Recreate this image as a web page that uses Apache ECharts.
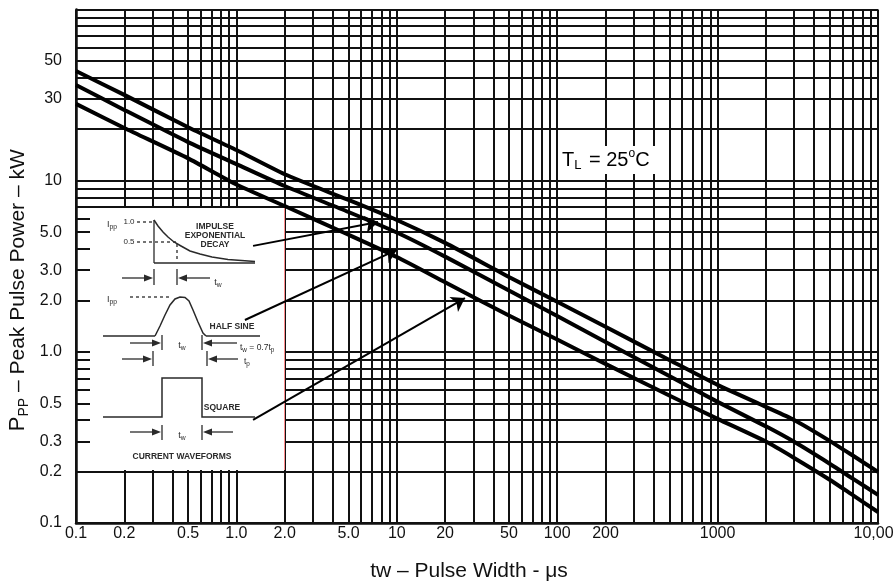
<!DOCTYPE html>
<html><head><meta charset="utf-8">
<script src="https://cdn.jsdelivr.net/npm/echarts@6/dist/echarts.min.js"></script>
<style>html,body{margin:0;padding:0;background:#fff}#c{width:894px;height:588px}</style>
</head><body><div id="c"></div>
<script>
// ---- data ----
const pulseWidth = [0.1, 0.2, 0.5, 1, 2, 5, 10, 20, 50, 100, 200, 500, 1000, 2000, 3000, 5000, 7000, 10000];
const curveTop = [43.7, 31.7, 20.5, 15.1, 10.9, 7.71, 5.89, 4.33, 2.74, 1.96, 1.40, 0.897, 0.641, 0.477, 0.40, 0.302, 0.247, 0.199];
const curveMid = [36.2, 25.9, 16.8, 12.5, 9.31, 6.56, 4.98, 3.60, 2.28, 1.62, 1.14, 0.723, 0.510, 0.367, 0.298, 0.222, 0.181, 0.146];
const curveBot = [28.1, 20.3, 13.5, 9.5, 7.11, 4.83, 3.58, 2.55, 1.63, 1.18, 0.850, 0.556, 0.406, 0.299, 0.240, 0.179, 0.145, 0.116];

const xTickValues = [0.1, 0.2, 0.5, 1, 2, 5, 10, 20, 50, 100, 200, 1000, 10000];
const xTickLabels = ['0.1', '0.2', '0.5', '1.0', '2.0', '5.0', '10', '20', '50', '100', '200', '1000', '10,000'];
const yTickValues = [0.1, 0.2, 0.3, 0.5, 1, 2, 3, 5, 10, 30, 50];
const yTickLabels = ['0.1', '0.2', '0.3', '0.5', '1.0', '2.0', '3.0', '5.0', '10', '30', '50'];

const xDecades = [0.1, 1, 10, 100, 1000];
const yDecades = [0.1, 1, 10];
const gridMultipliers = [1, 2, 3, 4, 5, 6, 7, 8, 9];

// arrows from the waveform inset to the curves (data coordinates)
const arrowFrom = [[1.27, 4.16], [1.13, 1.535], [1.27, 0.40]];
const arrowTo = [[7.64, 5.74], [10.0, 3.94], [26.6, 2.06]];

// ---- build ----
const xGrid = xDecades.flatMap(d => gridMultipliers.map(m => +(m * d).toPrecision(6))).concat([10000]);
const yGrid = yDecades.flatMap(d => gridMultipliers.map(m => +(m * d).toPrecision(6))).concat([100]);
function lookup(vals, labels, v) {
  for (let i = 0; i < vals.length; i++) if (Math.abs(vals[i] - v) / vals[i] < 1e-6) return labels[i];
  return '';
}
const zip = ys => pulseWidth.map((x, i) => [x, ys[i]]);

const FONT = '"Liberation Sans", Arial, sans-serif';
const NARROW = '"Liberation Sans Narrow", "Liberation Sans", Arial, sans-serif';
const ink = '#2a2a2a';
const els = [];
function seg(x1, y1, x2, y2, dash) {
  els.push({type: 'line', silent: true, z: 12, shape: {x1, y1, x2, y2},
    style: {stroke: ink, lineWidth: 1.3, lineDash: dash ? [3, 3] : null}});
}
function poly(points) {
  els.push({type: 'polyline', silent: true, z: 12, shape: {points}, style: {stroke: ink, lineWidth: 1.5, fill: null}});
}
function head(x, y, dir) {
  els.push({type: 'polygon', silent: true, z: 12, shape: {points: [[x, y], [x - dir * 9, y - 3.5], [x - dir * 9, y + 3.5]]}, style: {fill: ink}});
}
function arrowR(x1, x2, y) { seg(x1, y, x2 - 8, y); head(x2, y, 1); }
function arrowL(x1, x2, y) { seg(x1, y, x2 + 8, y); head(x2, y, -1); }
function txt(x, y, text, size, weight, align) {
  els.push({type: 'text', silent: true, z: 12, x, y, style: {
    text, fill: ink, fontSize: size || 8.5, fontFamily: NARROW, fontWeight: weight || 'normal',
    align: align || 'center', textAlign: align || 'center', verticalAlign: 'middle', textVerticalAlign: 'middle',
    rich: {
      n: {fontSize: size || 9, fontFamily: NARROW, fill: ink},
      s: {fontSize: (size || 9) * 0.75, fontFamily: NARROW, fill: ink, verticalAlign: 'bottom', padding: [5, 0, 0, 0]}
    }
  }});
}

// inset background
els.push({type: 'rect', silent: true, z: 10, shape: {x: 90, y: 208, width: 194, height: 262}, style: {fill: '#fff'}});
els.push({type: 'line', silent: true, z: 11, shape: {x1: 284.5, y1: 208, x2: 284.5, y2: 470}, style: {stroke: '#ff8c8c', lineWidth: 1}});

// impulse exponential decay
txt(112, 225, '{n|I}{s|pp}');
txt(129, 222, '1.0', 8);
txt(129, 242, '0.5', 8);
seg(137, 222, 152, 222, true);
seg(137, 242, 177, 242, true);
seg(177, 244, 177, 262, true);
seg(154, 220, 154, 263);
seg(154, 263, 255, 263);
poly([[154, 220], [158, 226], [163, 232], [168, 237], [174, 242], [181, 246], [190, 251], [200, 254], [212, 257], [228, 259.5], [255, 261.5]]);
txt(215, 227, 'IMPULSE', 8.5, 'bold');
txt(215, 236, 'EXPONENTIAL', 8.5, 'bold');
txt(215, 245, 'DECAY', 8.5, 'bold');
seg(154, 269, 154, 285); seg(177, 269, 177, 285);
arrowR(122, 153, 278);
arrowL(210, 178, 278);
txt(218, 283, '{n|t}{s|w}');

// half sine
txt(112, 300, '{n|I}{s|pp}');
seg(130, 297, 172, 297, true);
seg(103, 336, 155, 336);
poly([[155, 336], [160, 326], [165, 315], [170, 305], [175, 299], [180, 297], [185, 297.5], [189, 301], [193, 310], [198, 322], [203, 333], [206, 336]]);
seg(206, 336, 260, 336);
txt(232, 327, 'HALF SINE', 8.5, 'bold');
seg(162, 335, 162, 350); seg(202, 335, 202, 350);
arrowR(130, 161, 343);
arrowL(237, 203, 343);
txt(182, 346, '{n|t}{s|w}');
txt(240, 348, '{n|t}{s|w}{n| = 0.7t}{s|p}', 8.5, 'normal', 'left');
seg(153, 351, 153, 366); seg(207, 351, 207, 366);
arrowR(122, 152, 359);
arrowL(238, 208, 359);
txt(244, 362, '{n|t}{s|p}', 8.5, 'normal', 'left');

// square
poly([[103, 417], [162, 417], [162, 378], [202, 378], [202, 417], [255, 417]]);
txt(222, 408, 'SQUARE', 8.5, 'bold');
seg(162, 425, 162, 440); seg(202, 425, 202, 440);
arrowR(130, 161, 432);
arrowL(233, 203, 432);
txt(182, 436, '{n|t}{s|w}');
txt(182, 457, 'CURRENT WAVEFORMS', 8.5, 'bold');

// T_L label
els.push({type: 'text', silent: true, z: 12, x: 559, y: 146, style: {
  text: '{t|T}{s|L}{t| = 25}{o|o}{t|C}', backgroundColor: '#fff', padding: [2, 6, 2, 3],
  rich: {
    t: {fontSize: 20, fontFamily: FONT, fill: '#000', lineHeight: 24},
    s: {fontSize: 13, fontFamily: FONT, fill: '#000', verticalAlign: 'bottom', lineHeight: 24, padding: [6, 2, 0, 0]},
    o: {fontSize: 12, fontFamily: FONT, fill: '#000', verticalAlign: 'top', lineHeight: 24, padding: [0, 0, 8, 0]}
  }
}});

const chart = echarts.init(document.getElementById('c'), null, {renderer: 'canvas'});
const gridLineStyle = {color: '#111', width: 2, type: 'solid'};
chart.setOption({
  animation: false,
  backgroundColor: '#fff',
  grid: {left: 76, right: 16, top: 9.5, bottom: 65, containLabel: false, outerBoundsMode: 'none'},
  xAxis: {
    type: 'log', logBase: 10, min: 0.1, max: 10000,
    name: 'tw – Pulse Width - μs', nameLocation: 'middle', nameGap: 38, nameMoveOverlap: false,
    nameTextStyle: {fontSize: 21, fontFamily: FONT, color: '#111', padding: [0, 16, 0, 0]},
    axisLine: {show: true, onZero: false, lineStyle: {color: '#111', width: 2.5}},
    axisTick: {show: false}, splitLine: {show: false}, minorSplitLine: {show: false},
    axisLabel: {customValues: xTickValues, formatter: v => lookup(xTickValues, xTickLabels, v),
      color: '#111', fontSize: 16, fontFamily: FONT, margin: 3, showMinLabel: true, showMaxLabel: true, hideOverlap: false}
  },
  yAxis: {
    type: 'log', logBase: 10, min: 0.1, max: 100,
    name: '{p|P}{s|PP}{t| – Peak Pulse Power – kW}', nameLocation: 'middle', nameGap: 45, nameMoveOverlap: false,
    nameTextStyle: {padding: [0, 48, 0, 0], rich: {
      p: {fontSize: 22, fontFamily: FONT, color: '#111', lineHeight: 26},
      s: {fontSize: 14, fontFamily: FONT, color: '#111', verticalAlign: 'bottom', lineHeight: 26, padding: [8, 0, 0, 0]},
      t: {fontSize: 21, fontFamily: FONT, color: '#111', lineHeight: 26}
    }},
    axisLine: {show: true, onZero: false, lineStyle: {color: '#111', width: 2.5}},
    axisTick: {show: false}, splitLine: {show: false}, minorSplitLine: {show: false},
    axisLabel: {customValues: yTickValues, formatter: v => lookup(yTickValues, yTickLabels, v),
      color: '#111', fontSize: 16, fontFamily: FONT, margin: 14, showMinLabel: true, showMaxLabel: true, hideOverlap: false}
  },
  graphic: {elements: els},
  series: [
    {
      name: 'grid', type: 'line', data: [[1, 1]], symbol: 'none', silent: true, z: 1,
      lineStyle: {opacity: 0},
      markLine: {
        silent: true, z: 1, symbol: ['none', 'none'], label: {show: false}, animation: false,
        lineStyle: gridLineStyle, emphasis: {disabled: true},
        data: xGrid.map(v => ({xAxis: v})).concat(yGrid.map(v => ({yAxis: v})))
      }
    },
    {name: 'Impulse exponential decay', type: 'line', data: zip(curveTop), symbol: 'none', smooth: 0.2, z: 15,
      lineStyle: {color: '#000', width: 4}},
    {name: 'Half sine', type: 'line', data: zip(curveMid), symbol: 'none', smooth: 0.2, z: 15,
      lineStyle: {color: '#000', width: 4}},
    {name: 'Square', type: 'line', data: zip(curveBot), symbol: 'none', smooth: 0.2, z: 15,
      lineStyle: {color: '#000', width: 4},
      markLine: {
        silent: true, z: 20, symbol: ['none', 'arrow'], symbolSize: 13, label: {show: false}, animation: false,
        lineStyle: {color: '#000', width: 2, type: 'solid'}, emphasis: {disabled: true},
        data: arrowFrom.map((p, i) => [{coord: p}, {coord: arrowTo[i]}])
      }
    }
  ]
});
</script></body></html>
